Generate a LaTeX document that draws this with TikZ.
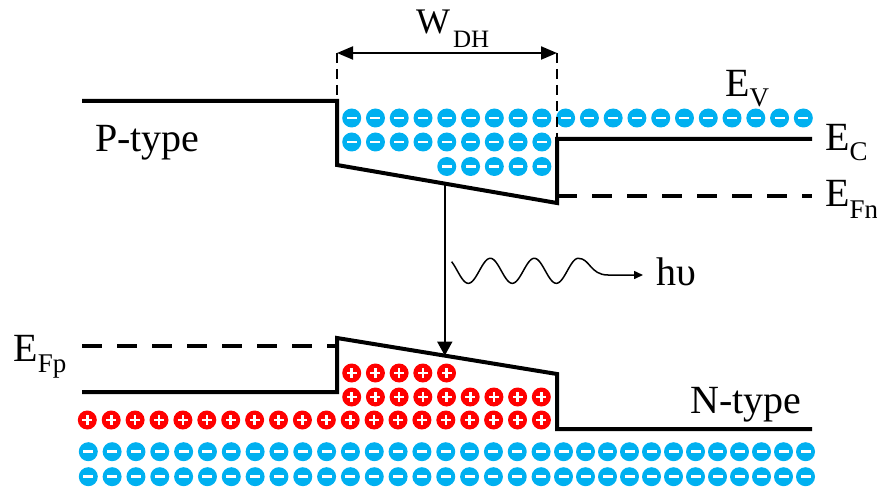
\documentclass[tikz,border=0pt]{standalone}
\usepackage{fontspec}
\setmainfont{Liberation Serif}
\usetikzlibrary{arrows.meta,calc}
\definecolor{ecyan}{HTML}{00B0F0}
\definecolor{hred}{HTML}{FF0000}
% level symbol with a lowered subscript: #1 main, #2 subscript, #3 drop in pt
\newcommand\bandlbl[3]{#1\raisebox{-#3pt}{\fontsize{27}{27}\selectfont #2}}

\begin{document}
\begin{tikzpicture}[x=1pt,y=-1pt,
  band/.style={line width=4pt, line join=miter},
  fermi/.style={line width=4pt, dash pattern=on 20pt off 15pt},
  guide/.style={line width=2pt, dash pattern=on 10pt off 6pt},
  lbl/.style={anchor=base west, inner sep=0pt, font=\fontsize{40}{44}\selectfont},
  electron/.pic={\fill[ecyan] (0,0) circle (9.5);
                 \fill[white] (-5,-1.4) rectangle (5,1.4);},
  hole/.pic={\fill[hred] (0,0) circle (9.5);
             \fill[white] (-5,-1.3) rectangle (5,1.3);
             \fill[white] (-1.3,-5) rectangle (1.3,5);}
]
\useasboundingbox (0,0) rectangle (877,489);

% ---- band corners ----
\coordinate (cl)  at (82,101);
\coordinate (c1)  at (337,101);
\coordinate (c2)  at (337,165);
\coordinate (c3)  at (557,203);
\coordinate (c4)  at (557,139);
\coordinate (cr)  at (812,139);
\coordinate (fnl) at (557,196);
\coordinate (fnr) at (812,196);

\coordinate (vl)  at (82,392);
\coordinate (v1)  at (337,392);
\coordinate (v2)  at (337,338);
\coordinate (v3)  at (557,374);
\coordinate (v4)  at (557,429);
\coordinate (vr)  at (812,429);
\coordinate (fpl) at (82,346);
\coordinate (fpr) at (337,346);

\coordinate (wl)  at (337,53);
\coordinate (wr)  at (557,53);

% ---- charges (drawn first, lines on top) ----
\foreach \i in {0,...,19} \pic at ({351.7+23.77*\i},118) {electron};
\foreach \i in {0,...,8}  \pic at ({351.7+23.77*\i},142) {electron};
\foreach \i in {4,...,8}  \pic at ({351.7+23.77*\i},166.5) {electron};

\foreach \i in {0,...,4}  \pic at ({351.7+23.7*\i},373) {hole};
\foreach \i in {0,...,8}  \pic at ({351.7+23.7*\i},397) {hole};
\foreach \i in {0,...,19} \pic at ({87.3+23.9*\i},420) {hole};

\foreach \y in {451.7,476.7}{
  \foreach \i in {0,...,19} \pic at ({88.3+23.83*\i},\y) {electron};
  \foreach \i in {0,...,11} \pic at ({563.5+22*\i},\y) {electron};
}

% ---- bands ----
\draw[band] (cl) -- (c1) -- (c2) -- (c3) -- (c4) -- (cr);
\draw[band] (vl) -- (v1) -- (v2) -- (v3) -- (v4) -- (vr);
\draw[fermi] (fnl) -- (fnr);
\draw[fermi] (fpl) -- (fpr);

% ---- junction width ----
\draw[guide] (wl) -- (c1);
\draw[guide] (wr) -- (c4);
\draw[line width=2pt, {Triangle[length=16pt,width=13pt]}-{Triangle[length=16pt,width=13pt]}] (wl) -- (wr);

% ---- recombination and emission ----
\coordinate (etop) at ($(c2)!0.49!(c3)$);
\coordinate (ebot) at ($(v2)!0.49!(v3)$);
\draw[line width=1.5pt, -{Triangle[length=14pt,width=15pt]}] (etop) -- (ebot);

\coordinate (photon) at (643,275);
\draw[line width=1.5pt, -{Triangle[length=9pt,width=8pt]}]
  plot[domain=0.12:3, samples=150] ({446.3+44*\x},{270.8-12.5*cos(360*\x)})
  .. controls (590,258.3) and (590,275) .. (608,275) -- (photon);

% ---- labels ----
\node[lbl] (wdh) at (416,34) {\fontsize{36}{40}\selectfont W\kern3pt\raisebox{-14pt}{\fontsize{25}{25}\selectfont DH}};
\node[lbl] (ptype) at (95,151.7) {P-type};
\node[lbl] (ntype) at (690,413) {N-type};
\node[lbl] (ev)  at (725,96.7)  {\bandlbl{E}{V}{10}};
\node[lbl] (ec)  at (825,150)   {\bandlbl{E}{C}{10}};
\node[lbl] (efn) at (825,206.7) {\bandlbl{E}{Fn}{12}};
\node[lbl] (efp) at (13.3,361.7){\bandlbl{E}{Fp}{11}};
\node[lbl] (hv)  at (656.7,285) {hυ};
\end{tikzpicture}
\end{document}
